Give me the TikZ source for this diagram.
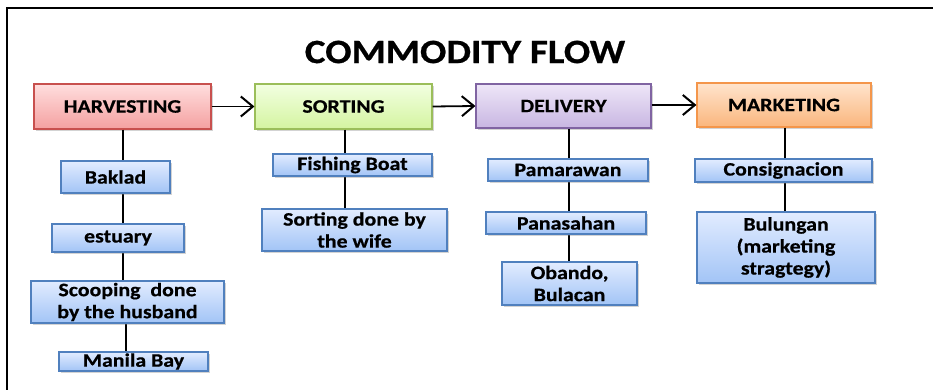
\documentclass[tikz,border=0pt]{standalone}
\usepackage{fontspec}
\setmainfont{Carlito}[FakeStretch=1.15, BoldFeatures={FakeBold=0.6}]
\usetikzlibrary{arrows.meta,shadows}
\definecolor{redTop}{RGB}{255,222,222}
\definecolor{redBot}{RGB}{244,160,160}
\definecolor{redLine}{RGB}{200,80,78}
\definecolor{grnTop}{RGB}{242,255,225}
\definecolor{grnBot}{RGB}{212,244,160}
\definecolor{grnLine}{RGB}{155,190,90}
\definecolor{purTop}{RGB}{238,230,248}
\definecolor{purBot}{RGB}{200,182,226}
\definecolor{purLine}{RGB}{128,100,162}
\definecolor{orgTop}{RGB}{255,228,205}
\definecolor{orgBot}{RGB}{250,182,125}
\definecolor{orgLine}{RGB}{244,150,75}
\definecolor{bluTop}{RGB}{226,236,255}
\definecolor{bluBot}{RGB}{162,196,246}
\definecolor{bluLine}{RGB}{80,128,190}
\tikzset{
  x=1pt,y=-1pt,
  basebox/.style={rectangle, inner sep=0pt, align=center, line width=1.2pt,
    drop shadow={shadow xshift=2pt, shadow yshift=-2pt, opacity=0.35},
    font=\bfseries\fontsize{19}{22}\selectfont},
  redbox/.style={basebox, draw=redLine, top color=redTop, bottom color=redBot},
  grnbox/.style={basebox, draw=grnLine, top color=grnTop, bottom color=grnBot},
  purbox/.style={basebox, draw=purLine, top color=purTop, bottom color=purBot},
  orgbox/.style={basebox, draw=orgLine, top color=orgTop, bottom color=orgBot},
  blubox/.style={basebox, draw=bluLine, top color=bluTop, bottom color=bluBot},
  flow/.style={line width=1.8pt, -{Straight Barb[length=12pt,width=20pt,line width=2pt]}},
  link/.style={line width=2pt},
  frame/.style={line width=1.5pt}
}
\begin{document}
\begin{tikzpicture}
\useasboundingbox (0,0) rectangle (933,390);
\coordinate (fl) at (7,390);
\coordinate (fc) at (7,8);
\coordinate (fr) at (933,8);
\draw[frame] (fl) -- (fc) -- (fr);

\node[font=\bfseries\fontsize{34}{37}\selectfont] (title) at (465,52) {COMMODITY FLOW};

% main boxes
\node[redbox, minimum width=177, minimum height=45] (h) at (122.5,106.5) {HARVESTING};
\node[grnbox, minimum width=177, minimum height=45] (s) at (343.5,106.5) {SORTING};
\node[purbox, minimum width=175, minimum height=44] (d) at (563.5,106) {DELIVERY};
\node[orgbox, minimum width=174, minimum height=44] (m) at (784,105) {MARKETING};

\draw[flow] (h.east) -- (s.west);
\draw[flow] (s.east) -- (d.west);
\draw[flow] (d.east |- m.west) -- (m.west);

% column coordinates
\coordinate (c1) at (123,0);
\coordinate (c1b) at (126,0);
\coordinate (c2) at (345,0);
\coordinate (c3) at (569,0);
\coordinate (c4) at (785,0);

% harvesting column
\draw[link] (c1 |- h.south) -- (c1 |- 0,161);
\draw[link] (c1 |- 0,193) -- (c1 |- 0,224);
\draw[link] (c1 |- 0,252) -- (c1 |- 0,281);
\draw[link] (c1b |- 0,323) -- (c1b |- 0,352);
\node[blubox, minimum width=109, minimum height=32] (bak) at (115.5,177) {Baklad};
\node[blubox, minimum width=132, minimum height=28] (est) at (118,238) {estuary};
\node[blubox, minimum width=193, minimum height=42] (sco) at (127.5,302) {Scooping\ \ done\\by the husband};
\node[blubox, minimum width=149, minimum height=19] (man) at (133.5,361.5) {Manila Bay};

% sorting column
\draw[link] (c2 |- s.south) -- (c2 |- 0,209);
\node[blubox, minimum width=159, minimum height=22] (fb) at (352.5,165) {Fishing Boat};
\node[blubox, minimum width=185, minimum height=42] (sw) at (354.5,230) {Sorting done by\\the wife};

% delivery column
\draw[link] (c3 |- d.south) -- (c3 |- 0,262);
\node[blubox, minimum width=160, minimum height=22] (pam) at (568,170) {Pamarawan};
\node[blubox, minimum width=160, minimum height=22] (pan) at (566,223) {Panasahan};
\node[blubox, minimum width=135, minimum height=43] (oba) at (569.5,283.5) {Obando,\\Bulacan};

% marketing column
\draw[link] (c4 |- m.south) -- (c4 |- 0,212);
\node[blubox, minimum width=177, minimum height=23] (con) at (783.5,170.5) {Consignacion};
\node[blubox, minimum width=178, minimum height=71] (bul) at (786,247.5) {Bulungan\\(marketing\\stragtegy)};
\end{tikzpicture}
\end{document}
